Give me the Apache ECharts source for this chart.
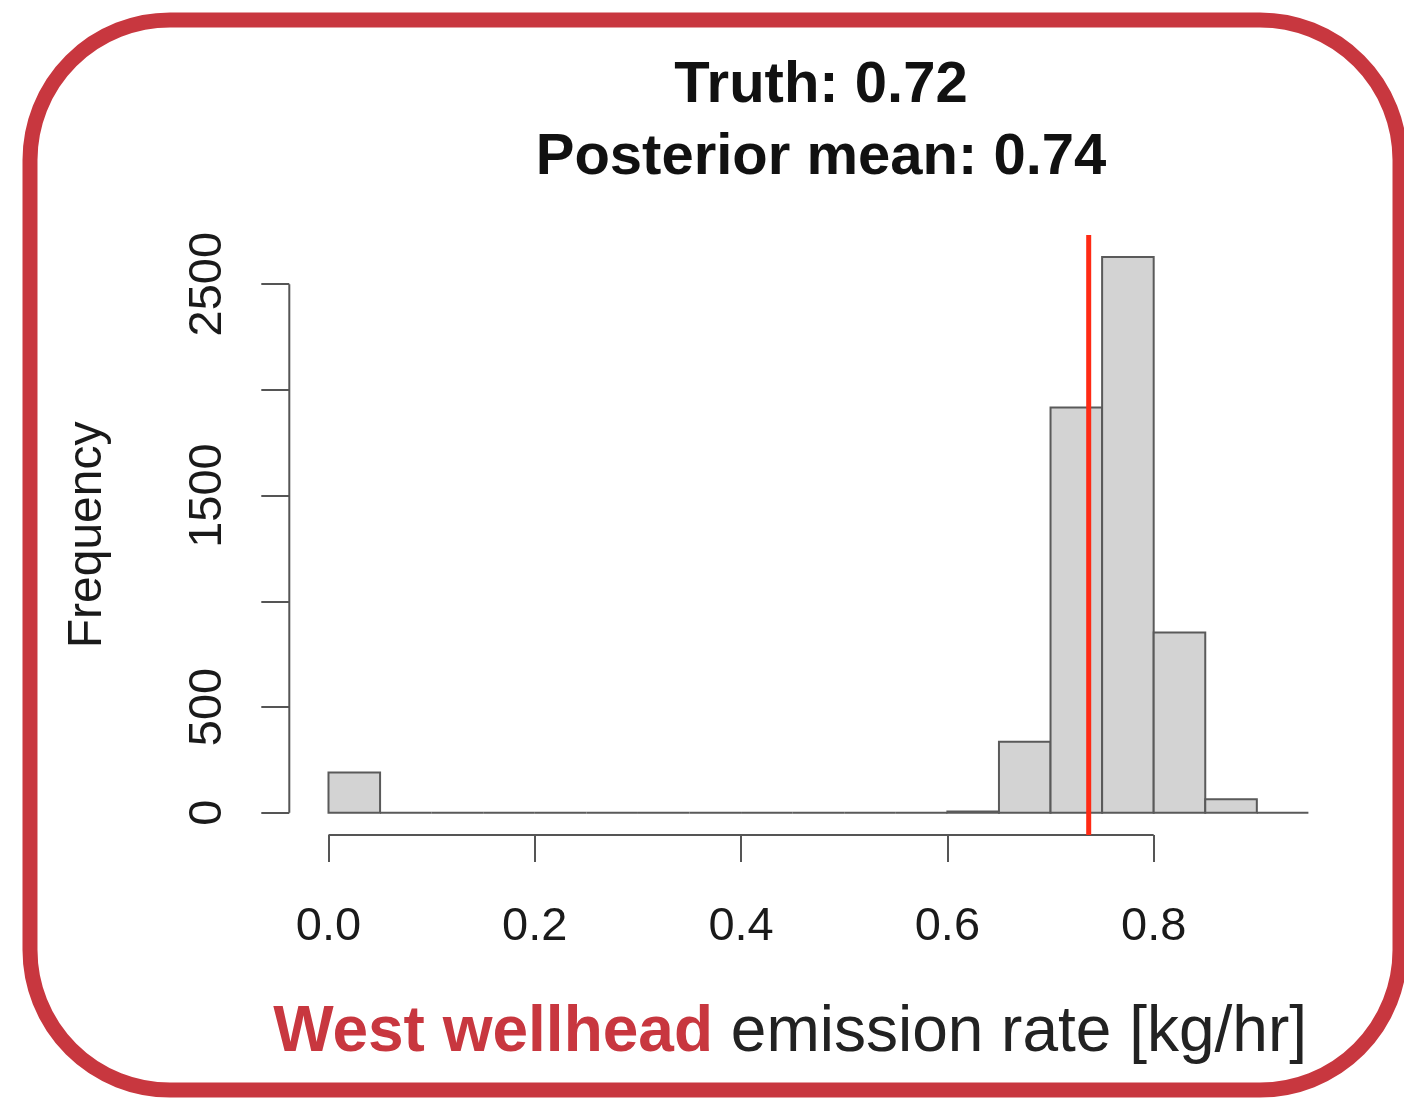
<!DOCTYPE html>
<html>
<head>
<meta charset="utf-8">
<script src="https://cdn.jsdelivr.net/npm/echarts@6/dist/echarts.min.js"></script>
<style>
html,body{margin:0;padding:0;background:#fff;}
#chart{width:1404px;height:1098px;}
</style>
</head>
<body>
<div id="chart"></div>
<script>
// ---- data ----
const binStarts = [0.00,0.05,0.10,0.15,0.20,0.25,0.30,0.35,0.40,0.45,0.50,0.55,0.60,0.65,0.70,0.75,0.80,0.85,0.90];
const binEnds   = [0.05,0.10,0.15,0.20,0.25,0.30,0.35,0.40,0.45,0.50,0.55,0.60,0.65,0.70,0.75,0.80,0.85,0.90,0.95];
const counts    = [190,0,0,0,0,0,0,0,0,0,0,0,6,335,1917,2628,852,63,0];
const posteriorMean = 0.737;
const xTicks = [0, 0.2, 0.4, 0.6, 0.8];
const yTicks = [0, 500, 1000, 1500, 2000, 2500];
const yTickLabels = [0, 500, 1500, 2500];
const titleLines = ['Truth: 0.72', 'Posterior mean: 0.74'];

// R-style axis extension (4%)
const xLo = binStarts[0], xHi = binEnds[binEnds.length-1];
const yHi = Math.max.apply(null, counts);
const xMin = xLo - 0.04*(xHi-xLo), xMax = xHi + 0.04*(xHi-xLo);
const yMin = -0.04*yHi, yMax = yHi*1.04;

const histData = binStarts.map((s,i)=>[s, binEnds[i], counts[i]]);

const chart = echarts.init(document.getElementById('chart'), null, {renderer:'canvas'});
const axisColor = '#555';
const font = "'Liberation Sans', Arial, Helvetica, sans-serif";

chart.setOption({
  animation:false,
  backgroundColor:'#fff',
  title:[{
    text: titleLines.join('\n'),
    left: 816, top: 45, textAlign:'center',
    textStyle:{fontFamily:font, fontSize:58, fontWeight:'bold', color:'#111', lineHeight:72}
  },{
    text:'{a|West wellhead}{b| emission rate [kg/hr]}',
    right: 92, top: 996,
    textStyle:{
      rich:{
        a:{fontFamily:font, fontSize:64, fontWeight:'bold', color:'#c8373f', lineHeight:64},
        b:{fontFamily:font, fontSize:64, fontWeight:'normal', color:'#222', lineHeight:64}
      }
    }
  }],
  graphic:[{
    type:'rect', z:100,
    shape:{x:30, y:20, width:1370, height:1070, r:140},
    style:{fill:'none', stroke:'#c8373f', lineWidth:15}
  }],
  grid:{left:289.3, right:56.4, top:234.9, bottom:263.1, containLabel:false},
  xAxis:{
    type:'value', min:xMin, max:xMax,
    axisLine:{show:false, onZero:false},
    splitLine:{show:false},
    axisTick:{show:true, customValues:xTicks, length:27, lineStyle:{color:axisColor, width:2}},
    axisLabel:{customValues:xTicks, formatter:v=>Number(v).toFixed(1), fontFamily:font, fontSize:47, color:'#1a1a1a', margin:69, lineHeight:47}
  },
  yAxis:{
    type:'value', min:yMin, max:yMax,
    name:'Frequency', nameLocation:'middle', nameRotate:90, nameGap:178,
    nameTextStyle:{fontFamily:font, fontSize:48, color:'#1a1a1a', lineHeight:48},
    axisLine:{show:false, onZero:false},
    splitLine:{show:false},
    axisTick:{show:true, customValues:yTicks, length:28, lineStyle:{color:axisColor, width:2}},
    axisLabel:{customValues:yTickLabels, rotate:90, formatter:v=>String(v), fontFamily:font, fontSize:47, color:'#1a1a1a', margin:58, lineHeight:47}
  },
  series:[{
    type:'custom',
    data:histData,
    encode:{x:[0,1], y:2},
    clip:false,
    renderItem:function(params, api){
      const p0 = api.coord([api.value(0), 0]);
      const p1 = api.coord([api.value(1), api.value(2)]);
      return {
        type:'rect',
        shape:{x:p0[0], y:p1[1], width:p1[0]-p0[0], height:p0[1]-p1[1]},
        style:{fill:'#d3d3d3', stroke:'#5a5a5a', lineWidth:2}
      };
    },
    z:2
  },{
    // x axis line (R style, spans first to last tick)
    type:'line', data:[[xTicks[0], yMin],[xTicks[xTicks.length-1], yMin]],
    symbol:'none', clip:false, lineStyle:{color:axisColor, width:2}, silent:true, z:3
  },{
    // y axis line
    type:'line', data:[[xMin, yTicks[0]],[xMin, yTicks[yTicks.length-1]]],
    symbol:'none', clip:false, lineStyle:{color:axisColor, width:2}, silent:true, z:3
  },{
    // posterior mean vertical line
    type:'line', data:[[posteriorMean, yMin],[posteriorMean, yMax]],
    symbol:'none', clip:false, lineStyle:{color:'#ff2a14', width:5}, silent:true, z:5
  }]
});
</script>
</body>
</html>
